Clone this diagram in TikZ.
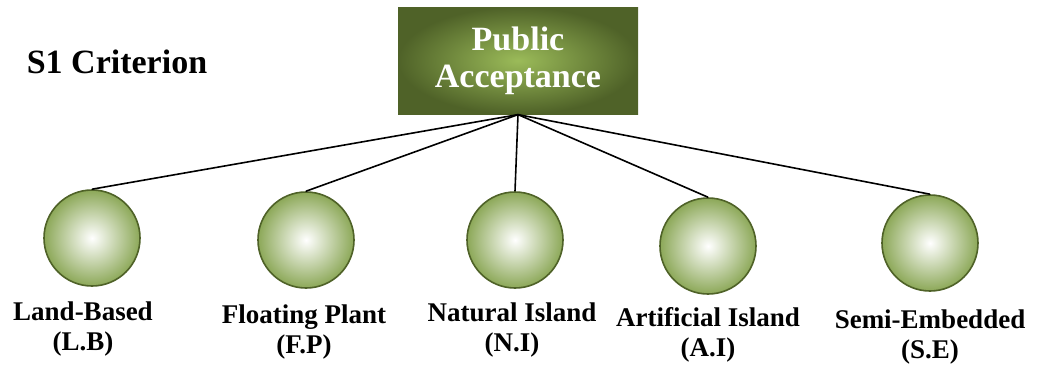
\documentclass[tikz,border=0pt]{standalone}
\usepackage{fontspec}
\setmainfont{Liberation Serif}
\usetikzlibrary{positioning}
\definecolor{olivedark}{RGB}{79,98,40}
\definecolor{olivemid}{RGB}{155,187,89}
\definecolor{olivering}{RGB}{140,168,88}

\begin{document}
\begin{tikzpicture}[x=0.5pt, y=-0.5pt, semithick,
  rootbox/.style={rectangle, minimum width=120pt, minimum height=53.5pt, inner color=olivemid, outer color=olivedark, text=white, align=center, font=\fontsize{17}{18.5}\selectfont\bfseries},
  ball/.style={circle, draw=olivedark, line width=0.8pt, minimum size=48pt, inner color=white, outer color=olivering},
  tag/.style={align=center, font=\fontsize{13.5}{15}\selectfont\bfseries},
  link/.style={line width=0.8pt}]
\useasboundingbox (0,0) rectangle (1039,371);

\node[font=\fontsize{17}{18.5}\selectfont\bfseries] (crit) at (117,62) {S1 Criterion};
\node[rootbox] (pa) at (518,60.5) {Public\\Acceptance};

\node[ball] (lb) at (92,238) {};
\node[ball] (fp) at (306,240) {};
\node[ball] (ni) at (515,240) {};
\node[ball] (ai) at (708,246) {};
\node[ball] (se) at (930,243) {};

\node[tag] (lbt) at (83,329) {Land-Based\\(L.B)};
\node[tag] (fpt) at (304,332) {Floating Plant\\(F.P)};
\node[tag] (nit) at (512,330) {Natural Island\\(N.I)};
\node[tag] (ait) at (708,335) {Artificial Island\\(A.I)};
\node[tag] (set) at (930,337) {Semi-Embedded\\(S.E)};

\foreach \n in {lb,fp,ni,ai,se}
  \draw[link] (pa.south) -- (\n.north);
\end{tikzpicture}
\end{document}
